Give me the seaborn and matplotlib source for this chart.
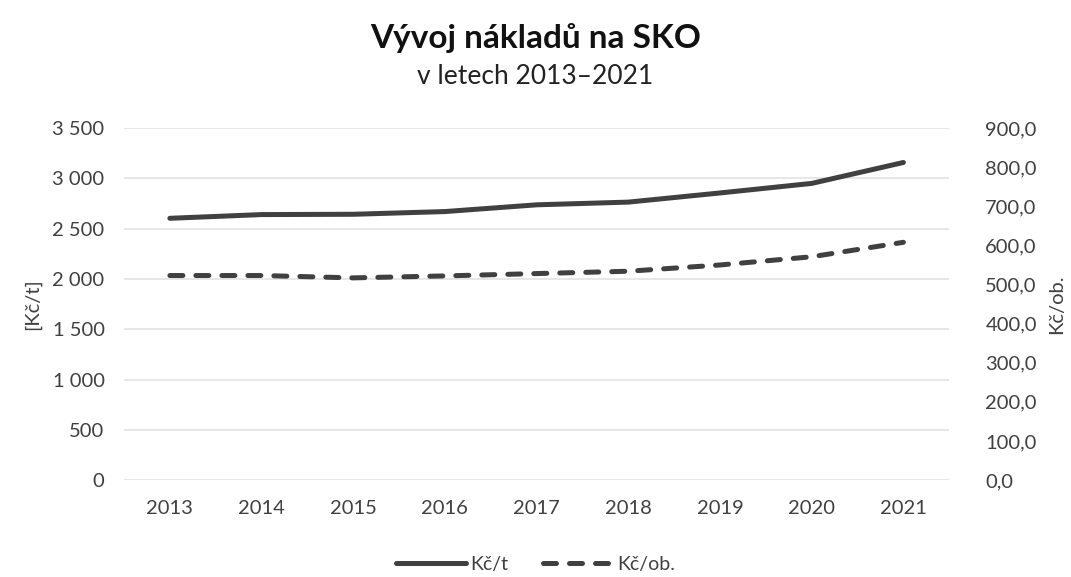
import matplotlib
matplotlib.use("Agg")
import matplotlib.pyplot as plt
import seaborn as sns
import pandas as pd
from matplotlib.lines import Line2D
from matplotlib.ticker import FuncFormatter, MultipleLocator

years = ["2013", "2014", "2015", "2016", "2017", "2018", "2019", "2020", "2021"]
kc_t = [2603, 2640, 2643, 2670, 2737, 2764, 2855, 2950, 3158]
kc_ob = [523, 523, 517, 522, 528, 534, 550, 571, 608]

title = "Vývoj nákladů na SKO"
subtitle = "v letech 2013–2021"
left_label = "[Kč/t]"
right_label = "Kč/ob."

sns.set_theme(style="white")
plt.rcParams["font.family"] = ["Lato", "DejaVu Sans"]

df = pd.DataFrame({"rok": years, "kc_t": kc_t, "kc_ob": kc_ob})

line_color = "#404040"
text_color = "#404040"
dash = [2.6, 2.6]

fig = plt.figure(figsize=(10.71, 5.77), dpi=100)
ax = fig.add_axes([0.1158, 0.168, 0.7705, 0.61])
ax2 = ax.twinx()

sns.lineplot(data=df, x="rok", y="kc_t", ax=ax, color=line_color, linewidth=3.6,
             solid_capstyle="round", sort=False)
sns.lineplot(data=df, x="rok", y="kc_ob", ax=ax2, color=line_color, linewidth=3.6,
             sort=False)
ax2.lines[0].set_dashes(dash)
ax2.lines[0].set_dash_capstyle("round")

ax.set_ylim(0, 3500)
ax2.set_ylim(0, 900)
ax.set_xlim(-0.5, len(years) - 0.5)
ax.yaxis.set_major_locator(MultipleLocator(500))
ax2.yaxis.set_major_locator(MultipleLocator(100))
ax.yaxis.set_major_formatter(FuncFormatter(lambda v, p: f"{int(v):,}".replace(",", " ")))
ax2.yaxis.set_major_formatter(FuncFormatter(lambda v, p: f"{v:.1f}".replace(".", ",")))

ax.grid(axis="y", color="#e3e3e3", linewidth=1.2)
ax.grid(axis="x", visible=False)
ax2.grid(False)
ax.set_axisbelow(True)
for a in (ax, ax2):
    for s in a.spines.values():
        s.set_visible(False)
    a.tick_params(length=0, labelsize=14.5, colors=text_color)
ax.tick_params(axis="y", pad=14)
ax.tick_params(axis="x", pad=14)
ax2.tick_params(axis="y", pad=26)

ax.set_xlabel("")
ax.set_ylabel(left_label, fontsize=14.5, color=text_color, labelpad=8)
ax2.set_ylabel(right_label, fontsize=14.5, color=text_color, labelpad=8)

fig.text(0.5, 0.935, title, ha="center", va="center", fontsize=24, fontweight="bold", color="#111111")
fig.text(0.5, 0.868, subtitle, ha="center", va="center", fontsize=19, color="#222222")

handles = [
    Line2D([0], [0], color=line_color, linewidth=3.6, solid_capstyle="round"),
    Line2D([0], [0], color=line_color, linewidth=3.6, dashes=dash, dash_capstyle="round"),
]
fig.legend(handles, ["Kč/t", "Kč/ob."], loc="center", bbox_to_anchor=(0.5, 0.022),
           ncol=2, frameon=False, fontsize=14, labelcolor=text_color,
           handlelength=3.6, handletextpad=0.2, columnspacing=1.8)

fig.savefig("out.png", dpi=100, facecolor="white")
